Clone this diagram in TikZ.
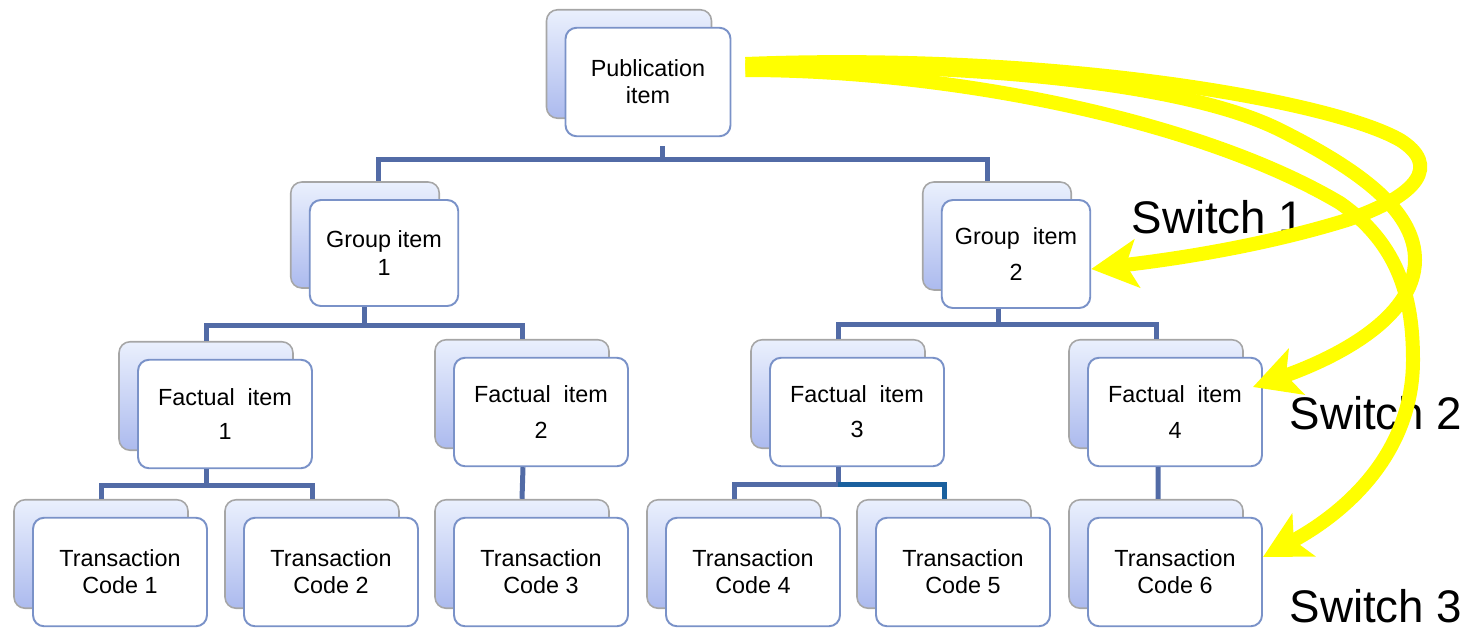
\documentclass[tikz,border=0pt]{standalone}
\usepackage{fontspec}
\setmainfont{Liberation Sans}
\usepackage{xcolor}
\usepackage{tikz}
\usetikzlibrary{arrows.meta,shadows}

\definecolor{linkblue}{RGB}{82,107,166}
\definecolor{linkdark}{RGB}{26,96,158}
\definecolor{boxedge}{RGB}{122,146,200}
\definecolor{backtop}{RGB}{234,240,253}
\definecolor{backbot}{RGB}{172,186,238}
\definecolor{switchyellow}{RGB}{255,255,0}

\begin{document}
\begin{tikzpicture}[x=0.02cm,y=-0.02cm]
		\tikzstyle{item}=[draw=boxedge, line width=1.1pt, fill=white, rounded corners=0.22cm,
			minimum width=3.48cm, minimum height=2.17cm, inner sep=0pt, align=center,
			font=\fontsize{13.3}{15.5}\selectfont,
			copy shadow={shadow xshift=-0.38cm, shadow yshift=0.36cm, draw=black!35,
				line width=0.9pt, top color=backtop, bottom color=backbot}]
		\tikzstyle{group_item}=[item, minimum width=2.97cm, minimum height=2.12cm]
		\tikzstyle{link}=[draw=linkblue, line width=0.1cm]
		\tikzstyle{switch_text}=[font=\fontsize{26}{30}\selectfont, inner sep=0pt]
		\tikzstyle{switch_arrow}=[draw=switchyellow, line width=0.28cm,
			-{Stealth[length=0.92cm, width=0.96cm, inset=0.22cm]}]

		\useasboundingbox (0,0) rectangle (1474,629);

		% tree
		\node [item, minimum width=3.3cm] (pub) at (648,82) {Publication\\item};

		\node [group_item] (g1) at (384,253) {Group item\\1};
		\node [group_item, minimum height=2.16cm] (g2) at (1016,254) {Group~~item\\[0.16cm]2};

		\node [item] (f1) at (225,414) {Factual~~item\\[0.12cm]1};
		\node [item] (f2) at (541,412) {Factual~~item\\[0.16cm]2};
		\node [item] (f3) at (857,412) {Factual~~item\\[0.16cm]3};
		\node [item] (f4) at (1175,412) {Factual~~item\\[0.16cm]4};

		\node [item] (tc1) at (120,572) {Transaction\\Code 1};
		\node [item] (tc2) at (331,572) {Transaction\\Code 2};
		\node [item] (tc3) at (541,572) {Transaction\\Code 3};
		\node [item] (tc4) at (753,572) {Transaction\\Code 4};
		\node [item] (tc5) at (963,572) {Transaction\\Code 5};
		\node [item] (tc6) at (1175,572) {Transaction\\Code 6};

		% connectors
		\draw [link] ([shift={(14,9)}]pub.south) -- ++(0,13) coordinate (pubbar);
		\draw [link] ([shift={(-6,-18)}]g1.north) |- (pubbar) -| ([shift={(-29,-18)}]g2.north);

		\draw [link] ([xshift=-0.4cm]g1.south) -- ++(0,19) coordinate (g1bar);
		\draw [link] ([shift={(-19,-18)}]f1.north) |- (g1bar) -| ([shift={(-19,-18)}]f2.north);

		\draw [link] ([xshift=-0.36cm]g2.south) -- ++(0,16) coordinate (g2bar);
		\draw [link] ([shift={(-19,-18)}]f3.north) |- (g2bar) -| ([shift={(-19,-18)}]f4.north);

		\draw [link] ([xshift=-0.38cm]f1.south) -- ++(0,16) coordinate (f1bar);
		\draw [link] ([shift={(-19,-18)}]tc1.north) |- (f1bar) -| ([shift={(-19,-18)}]tc2.north);

		\draw [link] ([xshift=-0.36cm]f2.south) -- ([shift={(-19,-18)}]tc3.north);

		\draw [link] ([xshift=-0.38cm]f3.south) -- ++(0,17) coordinate (f3bar);
		\draw [link] ([shift={(-19,-18)}]tc4.north) |- (f3bar);
		\draw [link, draw=linkdark] (f3bar) -| ([shift={(-19,-18)}]tc5.north);

		\draw [link] ([xshift=-0.34cm]f4.south) -- ([shift={(-17,-18)}]tc6.north);

		% switches
		\node [switch_text] (sw1) at (1218,217) {Switch 1};
		\node [switch_text] (sw2) at (1376,413) {Switch 2};
		\node [switch_text] (sw3) at (1376,606) {Switch 3};

		\draw [switch_arrow] ([shift={(14,-18)}]pub.east) .. controls (1050,52) and (1330,100) .. (1400,140)
			.. controls (1440,165) and (1420,195) .. (1347,220)
			.. controls (1250,250) and (1150,262) .. ([yshift=-0.3cm]g2.east);
		\draw [switch_arrow] ([shift={(14,-15)}]pub.east) .. controls (950,62) and (1180,80) .. (1280,130)
			.. controls (1370,175) and (1415,215) .. (1415,260)
			.. controls (1415,320) and (1330,360) .. ([shift={(-10,-25)}]f4.east);
		\draw [switch_arrow] ([shift={(14,-12)}]pub.east) .. controls (950,70) and (1200,120) .. (1340,203)
			.. controls (1400,245) and (1413,300) .. (1413,360)
			.. controls (1413,450) and (1350,510) .. ([yshift=0.3cm]tc6.east);

\end{tikzpicture}
\end{document}
